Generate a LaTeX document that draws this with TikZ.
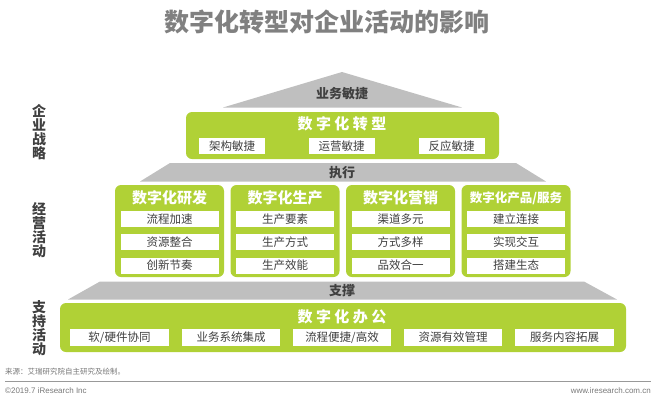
\documentclass[tikz,border=0pt]{standalone}
\usepackage{fontspec}
\setmainfont{Noto Sans CJK SC}
\newfontfamily\footfont{Liberation Sans}
\definecolor{igreen}{RGB}{176,209,54}
\definecolor{igray}{RGB}{191,191,191}
\definecolor{idark}{RGB}{64,64,64}
\definecolor{ititle}{RGB}{128,128,128}
\definecolor{ifoot}{RGB}{120,120,120}
\tikzset{
  greenbox/.style={fill=igreen, draw=none, rounded corners=6pt},
  whitebox/.style={fill=white, draw=none, minimum height=16pt, inner sep=0pt, text=idark, font=\fontsize{11.5}{12}\selectfont},
  graytrap/.style={fill=igray, draw=none},
  traptext/.style={text=idark, font=\fontsize{13}{14}\selectfont\bfseries, inner sep=0pt},
  boxtitle/.style={text=white, font=\fontsize{15}{16}\selectfont\bfseries, inner sep=0pt},
  sidelabel/.style={text=idark, font=\fontsize{14}{14.2}\selectfont\bfseries, align=center, inner sep=0pt},
}
\begin{document}
\begin{tikzpicture}[x=1pt,y=-1pt]
\useasboundingbox (0,0) rectangle (656,400);
% title
\node[text=ititle, font=\fontsize{25}{26}\selectfont\bfseries, inner sep=0pt] (title) at (327,22) {数字化转型对企业活动的影响};
% side labels
\node[sidelabel] (sl1) at (39,132) {企\\业\\战\\略};
\node[sidelabel] (sl2) at (39,230) {经\\营\\活\\动};
\node[sidelabel] (sl3) at (39,328) {支\\持\\活\\动};
% top triangle
\fill[graytrap] (342,72) -- (462,107.5) -- (223,107.5) -- cycle;
\node[traptext] (t1) at (342,94) {业务敏捷};
% green box 1
\fill[greenbox] (186,112) rectangle (499,159);
\node[boxtitle] (g1) at (342,124) {数 字 化 转 型};
\node[whitebox, minimum width=66pt] (a1) at (232,146) {架构敏捷};
\node[whitebox, minimum width=66pt] (a2) at (341.5,146) {运营敏捷};
\node[whitebox, minimum width=66pt] (a3) at (451.5,146) {反应敏捷};
% trapezoid 2
\fill[graytrap] (170,163) -- (516,163) -- (546,181.5) -- (140,181.5) -- cycle;
\node[traptext] (t2) at (342,173) {执行};
% four boxes
\foreach \x/\t/\a/\b/\c/\f [count=\i] in {
  115/{数字化研发}/流程加速/资源整合/创新节奏/15,
  230.5/{数字化生产}/生产要素/生产方式/生产效能/15,
  346/{数字化营销}/渠道多元/方式多样/品效合一/15,
  461.5/{数字化产品/服务}/建立连接/实现交互/搭建生态/12.5}{
  \fill[greenbox] (\x,185) rectangle ++(109,92);
  \node[boxtitle, font=\fontsize{\f}{16}\selectfont\bfseries] (h\i) at (\x+54.5,198) {\t};
  \node[whitebox, minimum width=98pt] (b\i1) at (\x+54.5,219) {\a};
  \node[whitebox, minimum width=98pt] (b\i2) at (\x+54.5,242) {\b};
  \node[whitebox, minimum width=98pt] (b\i3) at (\x+54.5,265.5) {\c};
}
% trapezoid 3
\fill[graytrap] (100,281.5) -- (584,281.5) -- (617,299.5) -- (68,299.5) -- cycle;
\node[traptext] (t3) at (342,291) {支撑};
% bottom green box
\fill[greenbox] (60,303) rectangle (626,352);
\node[boxtitle] (g3) at (342,317) {数 字 化 办 公};
\foreach \x/\t [count=\i] in {119.5/{软/硬件协同}, 231/{业务系统集成}, 342/{流程便捷/高效}, 453/{资源有效管理}, 564.5/{服务内容拓展}}{
  \node[whitebox, minimum width=98.5pt, minimum height=17pt] (c\i) at (\x,337.5) {\t};
}
% footer
\node[anchor=west, text=ifoot, font=\fontsize{7.5}{8}\selectfont, inner sep=0pt] (src) at (5,372) {来源：艾瑞研究院自主研究及绘制。};
\coordinate (l1) at (5,381);
\coordinate (l2) at (651,381);
\draw[draw=igray!80!black, line width=1pt] (l1) -- (l2);
\node[anchor=west, text=ifoot, font=\footfont\fontsize{8}{9}\selectfont, inner sep=0pt] (copy) at (5,391) {©2019.7 iResearch Inc};
\node[anchor=east, text=ifoot, font=\footfont\fontsize{8}{9}\selectfont, inner sep=0pt] (web) at (651,391) {www.iresearch.com.cn};
\end{tikzpicture}
\end{document}
